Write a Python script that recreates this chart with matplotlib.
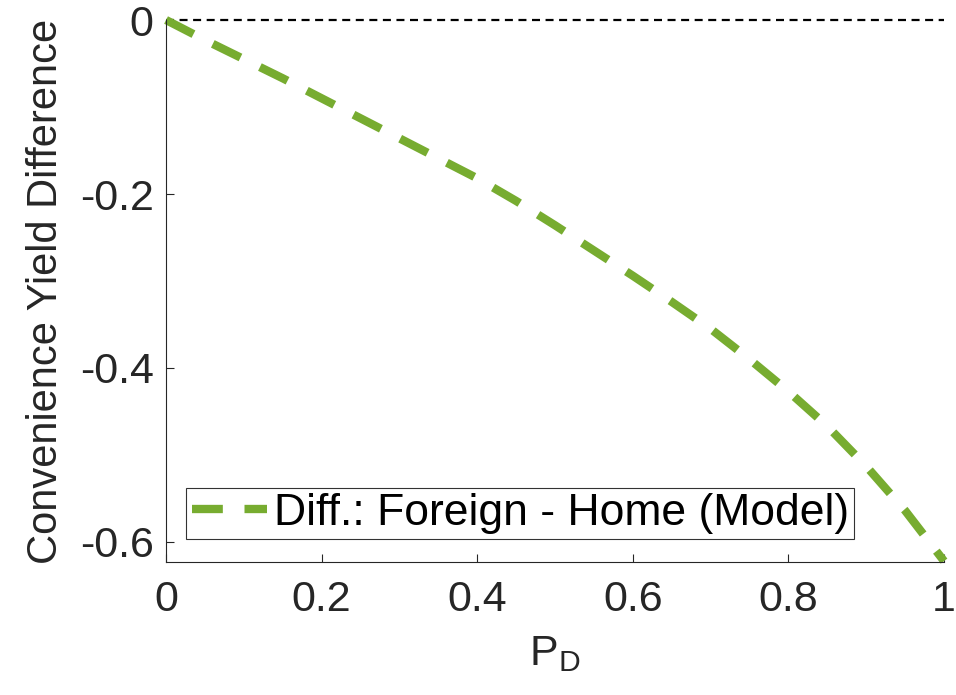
import matplotlib
matplotlib.use("Agg")
import matplotlib.pyplot as plt

plt.rcParams['font.family'] = ['Liberation Sans', 'DejaVu Sans']

p_d = [0, 0.05, 0.1, 0.15, 0.2, 0.25, 0.3, 0.35, 0.4, 0.45, 0.5, 0.55,
       0.6, 0.65, 0.7, 0.75, 0.8, 0.85, 0.9, 0.95, 1.0]
diff = [0, -0.023, -0.045, -0.067, -0.090, -0.113, -0.136, -0.159, -0.182,
        -0.208, -0.236, -0.265, -0.294, -0.324, -0.355, -0.390, -0.427,
        -0.467, -0.513, -0.564, -0.622]
xticks = [0, 0.2, 0.4, 0.6, 0.8, 1]
xticklabels = ['0', '0.2', '0.4', '0.6', '0.8', '1']
yticks = [0, -0.2, -0.4, -0.6]
yticklabels = ['0', '-0.2', '-0.4', '-0.6']

fig = plt.figure(figsize=(9.56, 6.95), dpi=100)
ax = fig.add_axes([0.1737, 0.1914, 0.8138, 0.7798])

ax.axhline(0, color='black', lw=1.6, dashes=(3.6, 2.5), zorder=1, clip_on=False)
ax.plot(p_d, diff, color='#77AC30', lw=6, dashes=(3.7, 2.6),
        dash_capstyle='butt', clip_on=False,
        label='Diff.: Foreign - Home (Model)', zorder=2)

ax.set_xlim(0, 1)
ax.set_ylim(-0.623, 0)
ax.set_xticks(xticks)
ax.set_xticklabels(xticklabels)
ax.set_yticks(yticks)
ax.set_yticklabels(yticklabels)

for s in ['top', 'right']:
    ax.spines[s].set_visible(False)
for s in ['left', 'bottom']:
    ax.spines[s].set_color('#262626')
    ax.spines[s].set_linewidth(0.8)

ax.tick_params(direction='in', length=6, width=0.8, colors='#262626',
               labelsize=31, pad=9)
ax.tick_params(axis='x', pad=13)

ax.set_xlabel(r'P$_\mathregular{D}$', fontsize=31, color='#262626', labelpad=10)
ax.set_ylabel('Convenience Yield Difference', fontsize=30, color='#262626',
              labelpad=10)

leg = ax.legend(loc='lower left', bbox_to_anchor=(0.026, 0.042), fontsize=32,
                frameon=True, fancybox=False, edgecolor='black',
                handlelength=1.7, handletextpad=0.15, borderpad=0.12,
                borderaxespad=0)
leg.get_frame().set_linewidth(0.8)

fig.savefig('out.png', dpi=100)
